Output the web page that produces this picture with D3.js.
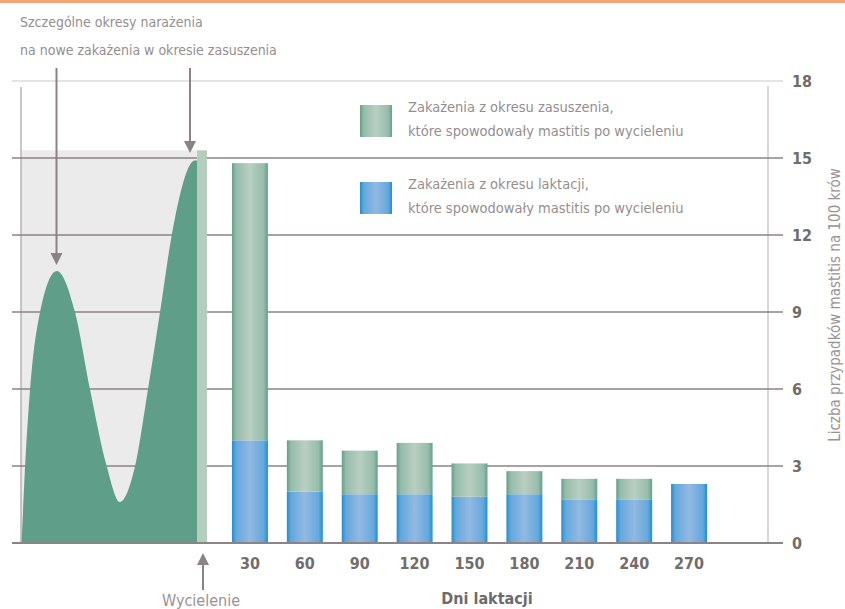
<!DOCTYPE html>
<html>
<head>
<meta charset="utf-8">
<script src="https://cdn.jsdelivr.net/npm/d3@7"></script>
<style>
  html, body { margin: 0; padding: 0; background: #fff; }
  svg { display: block; }
  text { font-family: "Liberation Sans Narrow", "DejaVu Sans Condensed", "Roboto Condensed", sans-serif; font-stretch: condensed; }
</style>
</head>
<body>
<svg id="chart" width="845" height="609"></svg>
<script>
// Lactation days (x categories)
const days = ["30", "60", "90", "120", "150", "180", "210", "240", "270"];
// Mastitis cases per 100 cows caused by infections from lactation period
const lactationCases = [4.0, 2.0, 1.9, 1.9, 1.8, 1.9, 1.7, 1.7, 2.3];
// Mastitis cases per 100 cows caused by infections from the dry period
const dryCases = [10.8, 2.0, 1.7, 2.0, 1.3, 0.9, 0.8, 0.8, 0.0];
// Risk of new infections during the dry period (days before calving, level)
const dryDays = [-59.8, -58.6, -56.9, -53.5, -47.8, -41.6, -36.5, -30.8, -26.3, -21.1, -16.7, -12.6, -8.6, -0.7, 0];
const dryRisk = [0, 3, 6, 9, 10.6, 9, 6, 3, 1.6, 3, 6, 9, 12, 14.9, 14.9];
// Level of the calving marker column
const calvingLevel = 15.3;
const yTicks = [0, 3, 6, 9, 12, 15, 18];

const svg = d3.select("#chart");
const defs = svg.append("defs");

function hGradient(id, edge, mid) {
  const g = defs.append("linearGradient").attr("id", id)
    .attr("x1", "0%").attr("x2", "100%").attr("y1", "0%").attr("y2", "0%");
  g.append("stop").attr("offset", "0%").attr("stop-color", edge);
  g.append("stop").attr("offset", "12%").attr("stop-color", d3.interpolateRgb(edge, mid)(0.6));
  g.append("stop").attr("offset", "50%").attr("stop-color", mid);
  g.append("stop").attr("offset", "88%").attr("stop-color", d3.interpolateRgb(edge, mid)(0.6));
  g.append("stop").attr("offset", "100%").attr("stop-color", edge);
}
hGradient("gBlue", "#1f8fd2", "#92b9e2");
hGradient("gGreen", "#64a08a", "#b8cfc1");

const grid = "#8b8384";
const y = d3.scaleLinear().domain([0, 18]).range([543, 81]);
const x = d3.scaleBand().domain(days).range([222.5, 716.5]).paddingInner(0.345).paddingOuter(0.1725);
const xDry = d3.scaleLinear().domain([-60, 0]).range([21, 197]);

// orange rule on top
svg.append("rect").attr("x", 0).attr("y", 0).attr("width", 845).attr("height", 3).attr("fill", "#f3a574");

// grey dry-period background
svg.append("rect").attr("x", 21).attr("y", y(calvingLevel))
  .attr("width", xDry(0) - 21).attr("height", y(0) - y(calvingLevel)).attr("fill", "#ebebeb");

// left frame line
svg.append("line").attr("x1", 21).attr("x2", 21).attr("y1", 87).attr("y2", y(0))
  .attr("stroke", "#b9b3b4").attr("stroke-width", 1.5);

// right axis line
svg.append("line").attr("x1", 768).attr("x2", 768).attr("y1", 86).attr("y2", y(0))
  .attr("stroke", "#cfcacb").attr("stroke-width", 1.5);

// horizontal gridlines
svg.append("g").selectAll("line").data(yTicks.filter(d => d > 0)).join("line")
  .attr("x1", 12).attr("x2", 783)
  .attr("y1", d => y(d)).attr("y2", d => y(d))
  .attr("stroke", d => d === 18 ? "#dedadb" : grid).attr("stroke-width", 1.5);

// dry-period risk curve
svg.append("path")
  .datum(dryRisk)
  .attr("d", d3.area()
    .x((d, i) => xDry(dryDays[i]))
    .y0(y(0)).y1(d => y(d)).curve(d3.curveMonotoneX))
  .attr("fill", "#5f9e89");

// calving marker column
svg.append("rect").attr("x", xDry(0)).attr("y", y(calvingLevel))
  .attr("width", 10).attr("height", y(0) - y(calvingLevel)).attr("fill", "#b4cdbd");

// stacked bars
const bars = svg.append("g");
days.forEach((d, i) => {
  const lac = lactationCases[i], dry = dryCases[i];
  bars.append("rect").attr("x", x(d)).attr("width", x.bandwidth())
    .attr("y", y(lac)).attr("height", y(0) - y(lac)).attr("fill", "url(#gBlue)");
  if (dry > 0) {
    bars.append("rect").attr("x", x(d)).attr("width", x.bandwidth())
      .attr("y", y(lac + dry)).attr("height", y(lac) - y(lac + dry)).attr("fill", "url(#gGreen)");
  }
});

// baseline
svg.append("line").attr("x1", 12).attr("x2", 783).attr("y1", y(0)).attr("y2", y(0))
  .attr("stroke", grid).attr("stroke-width", 2);

// y tick labels (right)
svg.append("g").selectAll("text").data(yTicks).join("text")
  .attr("x", 792).attr("y", d => y(d) + 6)
  .attr("font-size", 16).attr("font-weight", "bold").attr("fill", "#726c6d")
  .text(d => d);

// x tick labels
svg.append("g").selectAll("text").data(days).join("text")
  .attr("x", d => x(d) + x.bandwidth() / 2).attr("y", 569)
  .attr("text-anchor", "middle").attr("font-size", 16).attr("font-weight", "bold").attr("fill", "#726c6d")
  .text(d => d);

// axis titles
svg.append("text").attr("x", 487).attr("y", 604).attr("text-anchor", "middle")
  .attr("font-size", 16).attr("font-weight", "bold").attr("fill", "#6f6a6b").text("Dni laktacji");
svg.append("text").attr("transform", "translate(840,305) rotate(-90)").attr("text-anchor", "middle")
  .attr("font-size", 15).attr("fill", "#9a9394").text("Liczba przypadków mastitis na 100 krów");

// arrows
const arrowCol = "#8a8283";
function arrow(x0, yFrom, yTo) {
  const dir = yTo > yFrom ? 1 : -1;
  svg.append("line").attr("x1", x0).attr("x2", x0).attr("y1", yFrom).attr("y2", yTo - dir * 10)
    .attr("stroke", arrowCol).attr("stroke-width", 2);
  svg.append("path")
    .attr("d", `M${x0 - 6},${yTo - dir * 12} L${x0 + 6},${yTo - dir * 12} L${x0},${yTo} Z`)
    .attr("fill", arrowCol);
}
arrow(56.5, 68, y(10.6) - 6);
arrow(190, 68, y(15) - 5);
arrow(203, 590, 553);

// annotation texts
const note = svg.append("text").attr("font-size", 14).attr("fill", "#958e8f");
note.append("tspan").attr("x", 20).attr("y", 27).text("Szczególne okresy narażenia");
note.append("tspan").attr("x", 20).attr("y", 55).text("na nowe zakażenia w okresie zasuszenia");
svg.append("text").attr("x", 201).attr("y", 606).attr("text-anchor", "middle")
  .attr("font-size", 16).attr("fill", "#9a9394").text("Wycielenie");

// legend
const legend = [
  { fill: "url(#gGreen)", lines: ["Zakażenia z okresu zasuszenia,", "które spowodowały mastitis po wycieleniu"], y: 105 },
  { fill: "url(#gBlue)", lines: ["Zakażenia z okresu laktacji,", "które spowodowały mastitis po wycieleniu"], y: 182 }
];
legend.forEach(l => {
  svg.append("rect").attr("x", 360).attr("y", l.y).attr("width", 32).attr("height", 32).attr("fill", l.fill);
  const t = svg.append("text").attr("font-size", 14.5).attr("fill", "#958e8f");
  t.append("tspan").attr("x", 408).attr("y", l.y + 7).text(l.lines[0]);
  t.append("tspan").attr("x", 408).attr("y", l.y + 31).text(l.lines[1]);
});
</script>
</body>
</html>
